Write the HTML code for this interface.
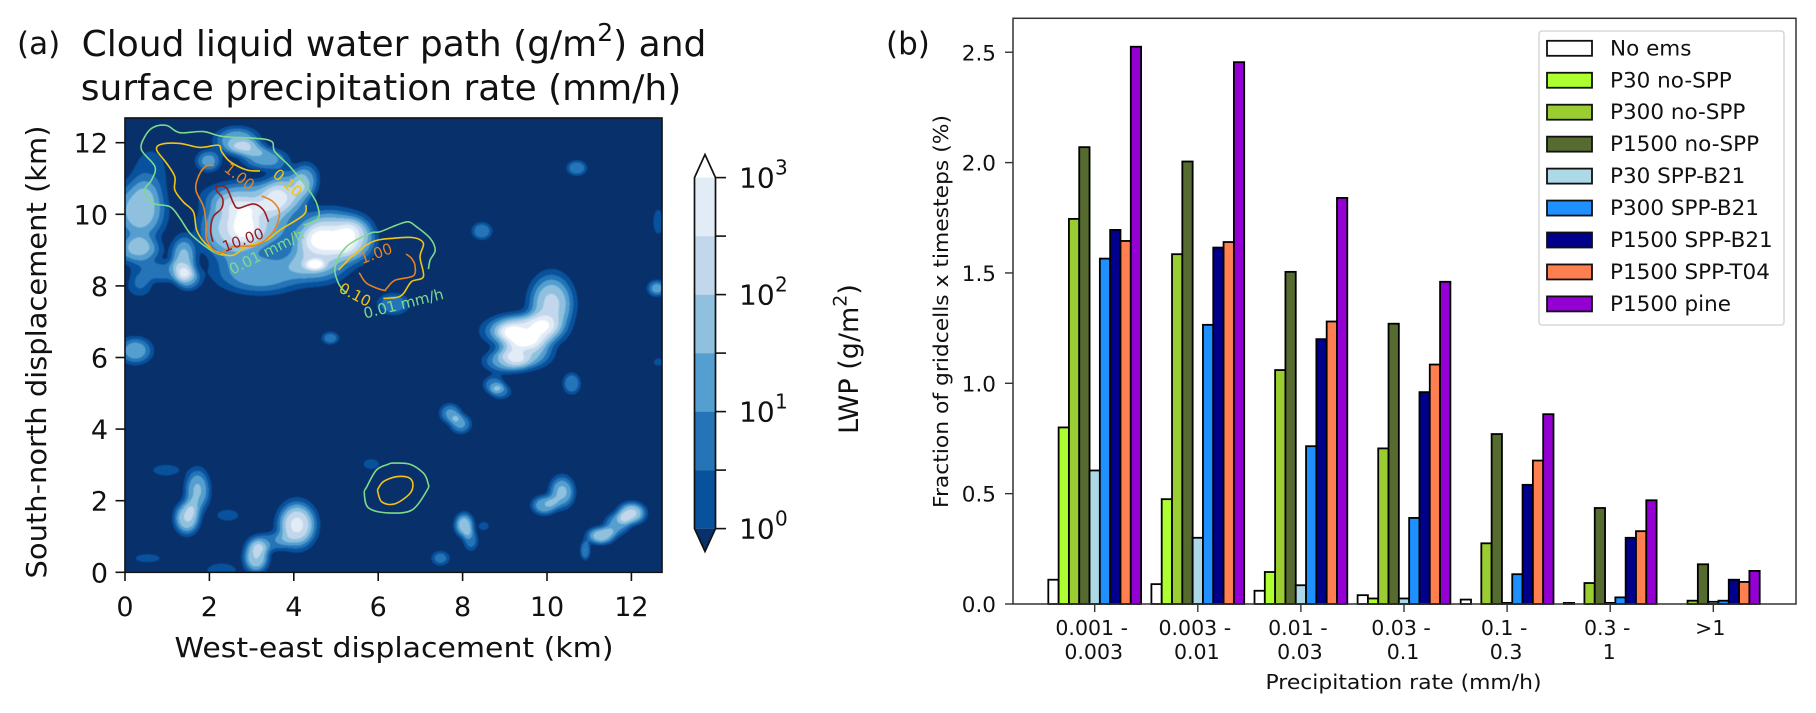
<!DOCTYPE html>
<html>
<head>
<meta charset="utf-8">
<title>Cloud liquid water path and precipitation rate</title>
<style>
html,body{margin:0;padding:0;background:#fff}
#stage{position:relative;width:1816px;height:713px;overflow:hidden;background:#fff}
#lwp-canvas{position:absolute;left:125px;top:118px;width:537px;height:454px;filter:blur(.5px)}
#overlay{position:absolute;left:0;top:0}
text{font-family:"DejaVu Sans","Liberation Sans",sans-serif;fill:#111}
</style>
</head>
<body>
<div id="stage">
<canvas id="lwp-canvas" width="1074" height="908"></canvas>
<svg id="overlay" width="1816" height="713" xmlns="http://www.w3.org/2000/svg"></svg>
</div>
<script>
/* ---------- panel (b) data ---------- */
var rateCategories = [["0.001 -","0.003"],["0.003 -","0.01"],["0.01 -","0.03"],["0.03 -","0.1"],["0.1 -","0.3"],["0.3 -","1"],[">1"]];
var seriesNames = ["No ems","P30 no-SPP","P300 no-SPP","P1500 no-SPP","P30 SPP-B21","P300 SPP-B21","P1500 SPP-B21","P1500 SPP-T04","P1500 pine"];
var seriesColors = ["#ffffff","#adff2f","#9acd32","#556b2f","#add8e6","#1e90ff","#00008b","#ff7f50","#9400d3"];
var noEms = [0.11,0.09,0.06,0.04,0.02,0.005,0];
var p30NoSpp = [0.80,0.475,0.145,0.025,0,0,0];
var p300NoSpp = [1.745,1.585,1.06,0.705,0.275,0.095,0.015];
var p1500NoSpp = [2.07,2.005,1.505,1.27,0.77,0.435,0.18];
var p30SppB21 = [0.605,0.30,0.085,0.025,0.005,0.005,0.01];
var p300SppB21 = [1.565,1.265,0.715,0.39,0.135,0.03,0.015];
var p1500SppB21 = [1.695,1.615,1.20,0.96,0.54,0.30,0.11];
var p1500SppT04 = [1.645,1.64,1.28,1.085,0.65,0.33,0.10];
var p1500Pine = [2.525,2.455,1.84,1.46,0.86,0.47,0.15];
var barTickLabels = ["0.0","0.5","1.0","1.5","2.0","2.5"];

/* ---------- panel (a) data: LWP field features, km and contour-level units ---------- */
var blobX =   [2.45,3.2,2.96,3.83,4.3,2.65,3.3,2.9,1.97,0.35,0.31,1.38,1.5,0.9,0.34,0.6,3.2,4.62,4.86,5.5,4.5,6.35,8.45,10.7,9.15,9.4,10.1,9.0,9.5,8.73,8.9,7.7,7.95,10.58,0.24,4.86,0.97,5.83,12.6,12.63,12.63,1.46,1.71,2.43,0.53,2.28,3.1,4.07,3.41,7.47,8.03,8.19,8.5,10.35,9.93,12,11.27,11.65,10.9];
var blobY =   [9.6,9.7,10.5,10.6,11,12.07,11.56,11.85,11.5,10.1,9,8.8,8.17,8.4,8,11.2,8.36,8.9,9.56,9.3,8.6,7.5,9.54,11.3,6.72,6.75,7.5,5.9,6.15,5.25,5.05,4.45,4.15,5.28,6.2,6.55,2.86,3.03,7.94,9.8,5.88,1.52,2.3,1.6,0.4,0.05,0.44,1.33,0.85,0.4,1.33,0.9,1.3,2.25,1.88,1.66,1.03,1.35,0.62];
var blobLevel=[5.0,4.5,3.6,3.8,3,4,3.5,2,3.4,4.7,4,4.2,2.8,2.5,2,1.5,3.8,5,4.5,3.8,3,3,3,3,1.5,6.3,5.2,3.3,4.5,2.8,2.4,3.2,3.2,3,3.7,2.7,1.5,1.5,3.5,1.5,1.3,5,4.1,1.5,1.5,2,5,6.2,2.5,2.5,4.7,2.5,1.5,4.2,3.9,5.2,4.7,3.4,3];
var blobSx =  [0.45,0.45,0.7,0.35,0.2,0.35,0.35,0.3,0.2,0.4,0.35,0.2,0.2,0.5,0.2,0.3,0.7,0.5,0.5,0.3,0.15,0.25,0.16,0.16,0.2,0.55,0.35,0.35,0.4,0.17,0.17,0.17,0.17,0.14,0.27,0.14,0.27,0.16,0.15,0.1,0.1,0.2,0.2,0.22,0.25,0.25,0.2,0.3,0.3,0.15,0.15,0.12,0.1,0.2,0.2,0.22,0.22,0.2,0.08];
var blobSy =  [0.55,0.45,0.3,0.45,0.3,0.25,0.2,0.15,0.2,0.55,0.25,0.4,0.2,0.2,0.2,0.5,0.38,0.5,0.4,0.4,0.1,0.2,0.16,0.14,0.13,0.3,0.55,0.22,0.3,0.16,0.14,0.18,0.18,0.2,0.25,0.12,0.13,0.12,0.15,0.3,0.1,0.3,0.4,0.13,0.1,0.15,0.3,0.42,0.18,0.14,0.22,0.2,0.1,0.3,0.18,0.2,0.16,0.2,0.18];
var lwpBandColors = ["#08306b","#08519c","#2474b7","#559fd0","#8fc1df","#c3d7ec","#e1ecf7","#ffffff"];
var xTickValues = [0,2,4,6,8,10,12];
var yTickValues = [0,2,4,6,8,10,12];
var colorbarMinorDecades = [0,0.5,1,1.5,2,2.5,3];

var contourGreenMain = [[4.23,9.70],[4.58,9.89],[4.54,10.31],[4.30,10.77],[3.91,11.33],[3.55,11.75],[3.48,12.03],[3.12,12.12],[2.33,12.17],[1.86,12.31],[1.30,12.28],[0.99,12.48],[0.67,12.43],[0.47,12.17],[0.39,11.80],[0.71,11.33],[0.63,10.96],[0.47,10.68],[0.67,10.31],[1.07,10.21],[1.30,9.89],[1.54,9.47],[1.86,9.14],[2.17,8.91],[2.33,8.86]];
var contourGoldMain = [[3.20,11.21],[2.88,11.24],[2.49,11.47],[2.29,11.75],[2.21,11.93],[1.78,11.87],[1.30,11.98],[0.87,11.96],[0.75,11.80],[0.99,11.42],[1.18,11.05],[1.18,10.68],[1.38,10.35],[1.62,10.07],[1.70,9.56],[1.90,9.19],[2.25,8.91],[2.57,8.86],[2.88,9.10],[3.36,9.28],[3.67,9.56],[4.23,9.98],[4.29,10.26]];
var contourOrangeMain = [[2.11,11.37],[1.90,11.33],[1.74,11.05],[1.68,10.68],[1.86,10.21],[1.92,9.75],[1.94,9.28],[2.21,8.91],[2.57,9.10],[3.12,9.14],[3.51,9.51],[3.66,10.03],[3.51,10.35],[3.24,10.51]];
var contourRedMain = [[2.08,9.23],[2.03,9.56],[2.09,9.93],[2.29,10.17],[2.31,10.45],[2.16,10.68],[2.21,10.79],[2.41,10.73],[2.57,10.31],[2.69,10.17],[3.04,10.29],[3.28,10.12],[3.40,9.79]];
var contourGreenEast = [[5.25,7.79],[5.06,8.07],[4.98,8.54],[5.25,9.10],[5.81,9.47],[6.04,9.51],[6.44,9.70],[6.71,9.79],[6.91,9.65],[7.23,9.33],[7.35,9.00],[7.23,8.72],[7.19,8.47]];
var contourGoldEast = [[5.06,8.44],[5.41,8.86],[5.88,9.24],[6.36,9.33],[6.83,9.35],[7.07,9.19],[6.99,8.81],[7.07,8.26],[6.79,8.12],[6.60,7.79],[6.44,7.68],[6.12,7.65]];
var contourOrangeEast = [[5.55,8.37],[5.73,8.07],[6.12,7.88],[6.20,7.93],[6.40,8.16],[6.83,8.28],[6.87,8.58],[6.79,8.77],[6.66,8.89]];
var contourGreenSouth = [[6.24,3.02],[5.96,2.86],[5.73,2.39],[5.67,2.21],[5.77,1.80],[6.23,1.66],[6.80,1.74],[7.16,2.30],[7.18,2.49],[7.07,2.77],[6.75,3.02],[6.35,3.05],[6.24,3.02]];
var contourGoldSouth = [[5.98,2.30],[6.08,1.97],[6.39,1.91],[6.75,2.20],[6.82,2.49],[6.71,2.65],[6.43,2.67],[6.12,2.53],[5.98,2.30]];

/* ---------- helpers ---------- */
var NS = "http://www.w3.org/2000/svg";
var svg = document.getElementById("overlay");
function mk(tag, attrs, parent){
  var e = document.createElementNS(NS, tag);
  for (var k in attrs) e.setAttribute(k, attrs[k]);
  (parent || svg).appendChild(e);
  return e;
}
function label(str, x, y, size, anchor, extra){
  var a = {x:x, y:y, "font-size":size, "text-anchor":anchor || "middle"};
  if (extra) for (var k in extra) a[k] = extra[k];
  var t = mk("text", a);
  t.textContent = str;
  return t;
}
function addSup(t, sup, supSize, after){
  var s = mk("tspan", {dy:-supSize * 0.6, "font-size":supSize}, t);
  s.textContent = sup;
  var r = mk("tspan", {dy:supSize * 0.6}, t);
  r.textContent = after;
}
/* axis functions */
function xL(km){ return 125 + km * 42.2; }
function yL(km){ return 572.3 - km * 35.8; }
function xB(i){ return 1094.7 + i * 103.1; }
function yB(v){ return 604 - v * 220.7; }
function yC(decade){ return 528.6 - decade * 117; }

/* ---------- filled contour field ---------- */
(function(){
  var c = document.getElementById("lwp-canvas"), g = c.getContext("2d");
  var w = c.width, h = c.height, img = g.createImageData(w, h);
  var widthScale = 1.2;
  var rgb = lwpBandColors.map(function(s){
    return [parseInt(s.substr(1,2),16), parseInt(s.substr(3,2),16), parseInt(s.substr(5,2),16)];
  });
  for (var j = 0; j < h; j++){
    var yk = (572.3 - (118 + j / 2)) / 35.8;
    for (var i = 0; i < w; i++){
      var xk = (i / 2) / 42.2, f = 0;
      for (var b = 0; b < blobX.length; b++){
        var dx = (xk - blobX[b]) / (blobSx[b] * widthScale), dy = (yk - blobY[b]) / (blobSy[b] * widthScale), r = dx*dx + dy*dy;
        if (r < 8) f += blobLevel[b] * Math.exp(-0.5 * r * Math.sqrt(r));
      }
      var idx = Math.min(7, Math.floor(f)), col = rgb[idx], p = (j * w + i) * 4;
      img.data[p] = col[0]; img.data[p+1] = col[1]; img.data[p+2] = col[2]; img.data[p+3] = 255;
    }
  }
  g.putImageData(img, 0, 0);
})();

/* ---------- panel (a) contours ---------- */
function smoothPath(pts){
  var d = "M" + xL(pts[0][0]).toFixed(1) + " " + yL(pts[0][1]).toFixed(1);
  for (var i = 0; i < pts.length - 1; i++){
    var p0 = pts[Math.max(0,i-1)], p1 = pts[i], p2 = pts[i+1], p3 = pts[Math.min(pts.length-1,i+2)];
    var c1x = xL(p1[0]) + (xL(p2[0]) - xL(p0[0])) / 6, c1y = yL(p1[1]) + (yL(p2[1]) - yL(p0[1])) / 6;
    var c2x = xL(p2[0]) - (xL(p3[0]) - xL(p1[0])) / 6, c2y = yL(p2[1]) - (yL(p3[1]) - yL(p1[1])) / 6;
    d += "C" + c1x.toFixed(1) + " " + c1y.toFixed(1) + " " + c2x.toFixed(1) + " " + c2y.toFixed(1) + " " + xL(p2[0]).toFixed(1) + " " + yL(p2[1]).toFixed(1);
  }
  return d;
}
var contourSets = [
  [contourGreenMain,"#7fd98a","contour-0-01-main"],[contourGoldMain,"#f2c414","contour-0-10-main"],
  [contourOrangeMain,"#e8821e","contour-1-00-main"],[contourRedMain,"#9a1c20","contour-10-00-main"],
  [contourGreenEast,"#7fd98a","contour-0-01-east"],[contourGoldEast,"#f2c414","contour-0-10-east"],
  [contourOrangeEast,"#e8821e","contour-1-00-east"],[contourGreenSouth,"#7fd98a","contour-0-01-south"],
  [contourGoldSouth,"#f2c414","contour-0-10-south"]
];
contourSets.forEach(function(s){
  var p = mk("path", {d:smoothPath(s[0]), fill:"none", stroke:s[1], "stroke-width":1.6});
  
  
});
var contourLabelText = ["1.00","0.10","10.00","0.01 mm/h","1.00","0.10","0.01 mm/h"];
var contourLabelColor = ["#e8821e","#f2c414","#9a1c20","#7fd98a","#e8821e","#f2c414","#7fd98a"];
var contourLabelX = [2.71,3.85,2.8,3.36,5.95,5.45,6.6];
var contourLabelY = [11.05,10.87,9.28,8.95,8.9,7.75,7.5];
var contourLabelAngle = [38,42,-20,-27,-20,28,-14];
contourLabelText.forEach(function(tx,i){
  var px = xL(contourLabelX[i]), py = yL(contourLabelY[i]);
  var t = label(tx, px, py + 5, 15, "middle", {transform:"rotate(" + contourLabelAngle[i] + " " + px + " " + py + ")"});
  t.style.fill = contourLabelColor[i];
  
  
});

/* ---------- panel (a) frame and axes ---------- */
var frameA = mk("rect", {x:125, y:118, width:537, height:454.3, fill:"none", stroke:"#111", "stroke-width":1.6});


xTickValues.forEach(function(v){
  var tk = mk("line", {x1:xL(v), x2:xL(v), y1:572.3, y2:581, stroke:"#111", "stroke-width":1.6});
  
  
  var t = label(String(v), xL(v), 616, 27);
  
  
});
yTickValues.forEach(function(v){
  var tk = mk("line", {x1:115.5, x2:125, y1:yL(v), y2:yL(v), stroke:"#111", "stroke-width":1.6});
  
  
  var t = label(String(v), 108, yL(v) + 10, 27, "end");
  
  
});
var xTitleA = label("West-east displacement (km)", 394, 657, 28, "middle", {textLength:439, lengthAdjust:"spacingAndGlyphs"});


var yTitleA = label("South-north displacement (km)", 46, 352, 28, "middle", {transform:"rotate(-90 46 352)", textLength:453, lengthAdjust:"spacingAndGlyphs"});


var panelA = label("(a)", 17, 54, 31, "start");


var titleA1 = label("Cloud liquid water path (g/m", 394, 56, 36);
addSup(titleA1, "2", 25, ") and");


var titleA2 = label("surface precipitation rate (mm/h)", 381, 100, 36);



/* ---------- colorbar ---------- */
for (var cb = 0; cb < colorbarMinorDecades.length - 1; cb++){
  var band = mk("rect", {x:694.5, y:yC(colorbarMinorDecades[cb+1]), width:21, height:yC(colorbarMinorDecades[cb]) - yC(colorbarMinorDecades[cb+1]), fill:lwpBandColors[cb+1]});
  
  
}
var cbOutline = mk("path", {d:"M694.5 " + yC(3) + "L705 154.5L715.5 " + yC(3) + "V" + yC(0) + "L705 551.5L694.5 " + yC(0) + "Z", fill:"none", stroke:"#111", "stroke-width":1.7, "stroke-linejoin":"miter"});
var cbLow = mk("path", {d:"M694.5 " + yC(0) + "L705 551.5L715.5 " + yC(0) + "Z", fill:"#08306b"});
svg.insertBefore(cbLow, cbOutline);




colorbarMinorDecades.forEach(function(d){
  var tk = mk("line", {x1:715.5, x2:726, y1:yC(d), y2:yC(d), stroke:"#111", "stroke-width":1.6});
  
  
  if (d === Math.floor(d)){
    var t = label("10", 739, yC(d) + 10, 28, "start");
    
    
    var sup = label(String(d), 775, yC(d) - 3, 20, "start");
    
    
  }
});
var cbTitle = label("LWP (g/m", 858, 359, 27, "middle", {transform:"rotate(-90 858 359)"});
addSup(cbTitle, "2", 19, ")");



/* ---------- panel (b) bars ---------- */
var allSeries = [noEms,p30NoSpp,p300NoSpp,p1500NoSpp,p30SppB21,p300SppB21,p1500SppB21,p1500SppT04,p1500Pine];
var barOffsetStep = 0.1;
allSeries.forEach(function(vals, s){
  vals.forEach(function(v, i){
    var left = xB(i + (s - 4.5) * barOffsetStep), right = xB(i + (s - 3.5) * barOffsetStep);
    var r = mk("rect", {x:left, y:yB(v), width:right - left, height:yB(0) - yB(v), fill:seriesColors[s], stroke:"#000", "stroke-width":1.8});
    
    
  });
});
var frameB = mk("rect", {x:1013, y:18.3, width:783, height:585.7, fill:"none", stroke:"#333", "stroke-width":1.5});


barTickLabels.forEach(function(s){
  var v = parseFloat(s);
  var tk = mk("line", {x1:1005, x2:1013, y1:yB(v), y2:yB(v), stroke:"#333", "stroke-width":1.4});
  
  
  var t = label(s, 996, yB(v) + 8, 21.5, "end");
  
  
});
rateCategories.forEach(function(lines, i){
  var tk = mk("line", {x1:xB(i), x2:xB(i), y1:604, y2:612, stroke:"#333", "stroke-width":1.4});
  
  
  lines.forEach(function(tx, n){
    var t = label(tx, xB(i) + (n === 0 ? -3 : -1), 635 + n * 24, 20.5);
    
    
  });
});
var xTitleB = label("Precipitation rate (mm/h)", 1403.5, 689, 20.5, "middle", {textLength:276, lengthAdjust:"spacingAndGlyphs"});


var yTitleB = label("Fraction of gridcells x timesteps (%)", 948, 311.5, 20.5, "middle", {transform:"rotate(-90 948 311.5)", textLength:393, lengthAdjust:"spacingAndGlyphs"});


var panelB = label("(b)", 886, 54, 31, "start");



/* ---------- legend ---------- */
var legendBox = mk("rect", {x:1539, y:31, width:245, height:294, rx:3, fill:"#fff", stroke:"#d8d8d8", "stroke-width":1.6});


seriesNames.forEach(function(n, i){
  var cy = 48.3 + i * 31.95;
  var sw = mk("rect", {x:1547, y:cy - 7.5, width:45, height:15, fill:seriesColors[i], stroke:"#111", "stroke-width":1.8});
  
  
  var t = label(n, 1610, cy + 7, 21.5, "start");
  
  
});
</script>
</body>
</html>
